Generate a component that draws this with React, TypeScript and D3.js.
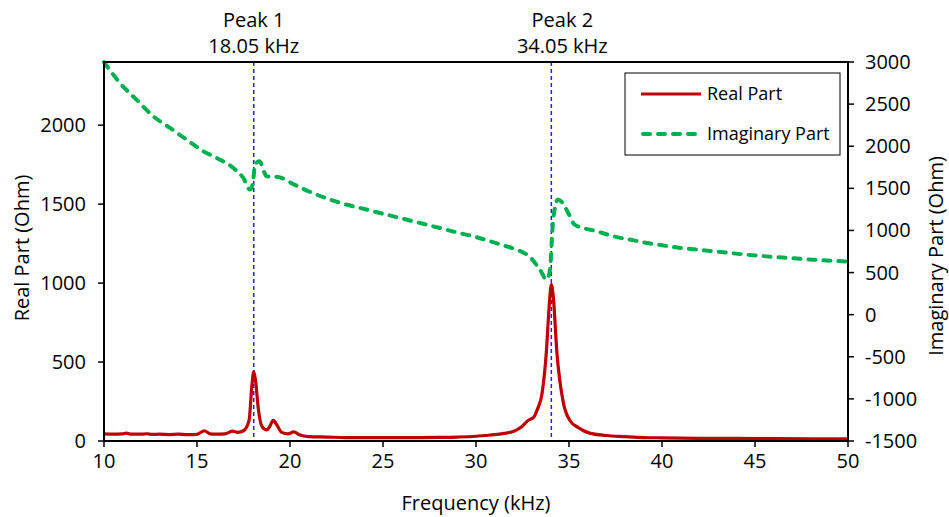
import React from "react";
import * as d3 from "d3";

const freqReal = [10.0,10.5,11.0,11.2,11.4,12.0,12.3,12.6,13.0,13.5,14.0,14.5,15.0,15.4,15.7,16.0,16.5,16.9,17.2,17.5,17.8,17.95,18.05,18.15,18.3,18.5,18.75,18.9,19.1,19.3,19.55,19.9,20.2,20.5,21,22,23,24,25,26,27,28,29,30,30.5,31,31.5,32,32.4,32.8,33.1,33.3,33.55,33.78,33.95,34.05,34.15,34.35,34.7,35.05,35.5,36.1,37,38,39,40,42,44,46,48,50];
const realPart = [45,43,45,50,44,43,46,42,43,41,43,40,42,65,45,43,45,62,55,65,130,350,440,380,200,90,70,90,130,100,55,45,58,40,28,25,22,22,22,22,22,23,25,30,35,40,48,60,85,130,150,200,300,560,880,990,920,560,240,130,85,50,35,28,22,20,17,16,15,14,13];

const freqImag = [10.0,10.86,11.76,12.65,13.55,14.44,15.34,16.06,16.95,17.49,17.85,18.0,18.12,18.35,18.75,19.1,19.46,20.18,21,22,23,24,25,26,27,28,29,30,31,31.65,32.2,32.9,33.44,33.8,33.98,34.07,34.15,34.4,34.6,35.0,35.3,36.48,37.4,38.5,39.2,40,41,42,43,44.5,46.3,48.1,50];
const imagPart = [3000,2750,2550,2355,2217,2078,1940,1861,1742,1623,1485,1560,1781,1821,1643,1640,1630,1550,1465,1378,1309,1254,1198,1143,1088,1032,975,922,855,811,770,685,534,416,534,855,1128,1366,1340,1190,1069,991,930,882,851,824,792,770,748,713,681,653,630];

const xTicks = [10,15,20,25,30,35,40,45,50];
const leftTicks = [0,500,1000,1500,2000];
const rightTicks = [-1500,-1000,-500,0,500,1000,1500,2000,2500,3000];
const peaks = [
  { f: 18.05, name: "Peak 1", label: "18.05 kHz", dx: 0 },
  { f: 34.05, name: "Peak 2", label: "34.05 kHz", dx: 11 },
];

const W = 949, H = 517;
const L = 104, R = 848, T = 62, B = 441;
const FONT = "'Open Sans', 'Noto Sans', sans-serif";
const FS = 20;
const LEG_FS = 18;

export default function App() {
  const x = d3.scaleLinear().domain([10, 50]).range([L, R]);
  const yL = d3.scaleLinear().domain([0, 2400]).range([B, T]);
  const yR = d3.scaleLinear().domain([-1500, 3000]).range([B, T]);

  const realLine = d3.line<number>()
    .x((_, i) => x(freqReal[i]))
    .y((d) => yL(d))
    .curve(d3.curveMonotoneX);
  const imagLine = d3.line<number>()
    .x((_, i) => x(freqImag[i]))
    .y((d) => yR(d))
    .curve(d3.curveMonotoneX);

  return (
    <svg width={W} height={H} style={{ position: "absolute", left: 0, top: 0, background: "#fff" }} fontFamily={FONT}>
      <rect x={0} y={0} width={W} height={H} fill="#fff" />
      {peaks.map((p) => (
        <line key={p.name} x1={x(p.f)} x2={x(p.f)} y1={T} y2={B} stroke="#1f1fff" strokeWidth={1.5} strokeDasharray="4,3" />
      ))}
      <path d={imagLine(imagPart) || ""} fill="none" stroke="#00B050" strokeWidth={4} strokeDasharray="7,8" strokeLinecap="round" />
      <path d={realLine(realPart) || ""} fill="none" stroke="#C00000" strokeWidth={3.2} strokeLinejoin="round" />
      <rect x={L} y={T} width={R - L} height={B - T} fill="none" stroke="#000" strokeWidth={2} />
      {xTicks.map((t) => (
        <g key={"x" + t}>
          <line x1={x(t)} x2={x(t)} y1={B} y2={B + 6} stroke="#000" strokeWidth={1.5} />
          <text x={x(t)} y={468} textAnchor="middle" fontSize={FS} fill="#000">{t}</text>
        </g>
      ))}
      {leftTicks.map((t) => (
        <g key={"l" + t}>
          <line x1={L - 6} x2={L} y1={yL(t)} y2={yL(t)} stroke="#000" strokeWidth={1.5} />
          <text x={86} y={yL(t) + 7} textAnchor="end" fontSize={FS} fill="#000">{t}</text>
        </g>
      ))}
      {rightTicks.map((t) => (
        <g key={"r" + t}>
          <line x1={R} x2={R + 6} y1={yR(t)} y2={yR(t)} stroke="#000" strokeWidth={1.5} />
          <text x={865} y={yR(t) + 7} textAnchor="start" fontSize={FS} fill="#000">{t}</text>
        </g>
      ))}
      <text x={476} y={510} textAnchor="middle" fontSize={FS} fill="#000">Frequency (kHz)</text>
      <text transform={`translate(29, 248) rotate(-90)`} textAnchor="middle" fontSize={FS} fill="#000">Real Part (Ohm)</text>
      <text transform={`translate(943, 256) rotate(-90)`} textAnchor="middle" fontSize={FS} fill="#000">Imaginary Part (Ohm)</text>
      {peaks.map((p) => (
        <g key={"lab" + p.name}>
          <text x={x(p.f) + p.dx} y={27} textAnchor="middle" fontSize={FS} fill="#000">{p.name}</text>
          <text x={x(p.f) + p.dx} y={53} textAnchor="middle" fontSize={FS} fill="#000">{p.label}</text>
        </g>
      ))}
      <g>
        <rect x={625} y={73} width={215} height={82} fill="#fff" stroke="#000" strokeWidth={1} />
        <line x1={641} x2={701} y1={94} y2={94} stroke="#C00000" strokeWidth={3} />
        <text x={707} y={100} fontSize={LEG_FS} fill="#000">Real Part</text>
        <line x1={643} x2={701} y1={134} y2={134} stroke="#00B050" strokeWidth={4} strokeDasharray="7,8" strokeLinecap="round" />
        <text x={707} y={140} fontSize={LEG_FS} fill="#000">Imaginary Part</text>
      </g>
    </svg>
  );
}
